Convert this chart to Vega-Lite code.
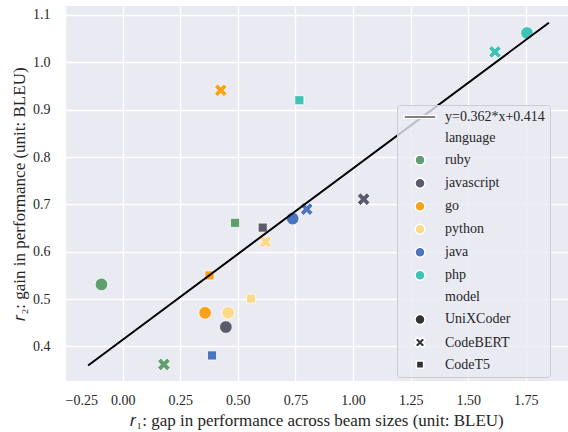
{
  "$schema": "https://vega.github.io/schema/vega-lite/v6.json",
  "width": 503,
  "height": 375,
  "autosize": {"type": "none"},
  "padding": {"left": 65, "top": 6, "right": 0, "bottom": 51},
  "background": "#ffffff",
  "config": {
    "view": {"fill": "#eaeaf2", "stroke": null},
    "font": "Liberation Serif",
    "axis": {
      "domain": false,
      "ticks": false,
      "gridColor": "#ffffff",
      "gridWidth": 1.3,
      "labelFont": "Liberation Serif",
      "labelFontSize": 14,
      "labelColor": "#262626",
      "titleFont": "Liberation Serif",
      "titleFontSize": 17,
      "titleFontWeight": "normal",
      "titleColor": "#262626"
    },
    "legend": {
      "title": null,
      "orient": "none",
      "legendX": 332,
      "legendY": 99,
      "padding": 5,
      "symbolOffset": 11,
      "symbolSize": 100,
      "labelOffset": 18,
      "labelFont": "Liberation Serif",
      "labelFontSize": 14,
      "labelColor": "#262626",
      "rowPadding": 7.05,
      "fillColor": "rgba(234,234,242,0.8)",
      "strokeColor": "#cccccc",
      "cornerRadius": 3
    }
  },
  "datasets": {
    "points": [
      {"language": "ruby", "model": "UniXCoder", "key": "ruby UniXCoder", "r1": -0.092, "r2": 0.531},
      {"language": "ruby", "model": "CodeBERT", "key": "ruby CodeBERT", "r1": 0.179, "r2": 0.362},
      {"language": "ruby", "model": "CodeT5", "key": "ruby CodeT5", "r1": 0.488, "r2": 0.661},
      {"language": "javascript", "model": "UniXCoder", "key": "javascript UniXCoder", "r1": 0.448, "r2": 0.441},
      {"language": "javascript", "model": "CodeBERT", "key": "javascript CodeBERT", "r1": 1.046, "r2": 0.711},
      {"language": "javascript", "model": "CodeT5", "key": "javascript CodeT5", "r1": 0.608, "r2": 0.651},
      {"language": "go", "model": "UniXCoder", "key": "go UniXCoder", "r1": 0.358, "r2": 0.471},
      {"language": "go", "model": "CodeBERT", "key": "go CodeBERT", "r1": 0.426, "r2": 0.941},
      {"language": "go", "model": "CodeT5", "key": "go CodeT5", "r1": 0.377, "r2": 0.55},
      {"language": "python", "model": "UniXCoder", "key": "python UniXCoder", "r1": 0.458, "r2": 0.471},
      {"language": "python", "model": "CodeBERT", "key": "python CodeBERT", "r1": 0.62, "r2": 0.621},
      {"language": "python", "model": "CodeT5", "key": "python CodeT5", "r1": 0.557, "r2": 0.501},
      {"language": "java", "model": "UniXCoder", "key": "java UniXCoder", "r1": 0.738, "r2": 0.67},
      {"language": "java", "model": "CodeBERT", "key": "java CodeBERT", "r1": 0.799, "r2": 0.69},
      {"language": "java", "model": "CodeT5", "key": "java CodeT5", "r1": 0.388, "r2": 0.381},
      {"language": "php", "model": "UniXCoder", "key": "php UniXCoder", "r1": 1.755, "r2": 1.062},
      {"language": "php", "model": "CodeBERT", "key": "php CodeBERT", "r1": 1.616, "r2": 1.022},
      {"language": "php", "model": "CodeT5", "key": "php CodeT5", "r1": 0.767, "r2": 0.92}
    ],
    "fit": [
      {"r1": -0.15, "r2": 0.3597},
      {"r1": 1.85, "r2": 1.0837}
    ]
  },
  "layer": [
    {
      "data": {"name": "points"},
      "mark": {"type": "point", "filled": true, "size": 160, "opacity": 1, "stroke": "#ffffff", "strokeWidth": 0.8},
      "encoding": {
        "x": {
          "field": "r1", "type": "quantitative",
          "scale": {"domain": [-0.2502, 1.933], "nice": false, "zero": false},
          "axis": {"values": [-0.25, 0, 0.25, 0.5, 0.75, 1, 1.25, 1.5, 1.75], "format": ".2f", "labelPadding": 12, "titlePadding": 5,
                   "title": "𝑟₁: gap in performance across beam sizes (unit: BLEU)"}
        },
        "y": {
          "field": "r2", "type": "quantitative",
          "scale": {"domain": [0.327, 1.119], "nice": false, "zero": false},
          "axis": {"values": [0.4, 0.5, 0.6, 0.7, 0.8, 0.9, 1.0, 1.1], "format": ".1f", "labelPadding": 15, "titlePadding": 4,
                   "title": "𝑟₂: gain in performance (unit: BLEU)"}
        },
        "color": {
          "field": "key", "type": "nominal",
          "scale": {
            "domain": ["y=0.362*x+0.414", "language", "ruby", "javascript", "go", "python", "java", "php", "model", "UniXCoder", "CodeBERT", "CodeT5",
                       "ruby UniXCoder", "ruby CodeBERT", "ruby CodeT5", "javascript UniXCoder", "javascript CodeBERT", "javascript CodeT5",
                       "go UniXCoder", "go CodeBERT", "go CodeT5", "python UniXCoder", "python CodeBERT", "python CodeT5",
                       "java UniXCoder", "java CodeBERT", "java CodeT5", "php UniXCoder", "php CodeBERT", "php CodeT5"],
            "range": ["#000000", "transparent", "#5f9e6e", "#5b5a6b", "#f9a11b", "#fdd98a", "#4a76c0", "#3fc3b5", "transparent", "#333333", "#333333", "#333333",
                      "#5f9e6e", "#5f9e6e", "#5f9e6e", "#5b5a6b", "#5b5a6b", "#5b5a6b",
                      "#f9a11b", "#f9a11b", "#f9a11b", "#fdd98a", "#fdd98a", "#fdd98a",
                      "#4a76c0", "#4a76c0", "#4a76c0", "#3fc3b5", "#3fc3b5", "#3fc3b5"]
          },
          "legend": {
            "values": ["y=0.362*x+0.414", "language", "ruby", "javascript", "go", "python", "java", "php", "model", "UniXCoder", "CodeBERT", "CodeT5"]
          }
        },
        "shape": {
          "field": "key", "type": "nominal",
          "scale": {
            "domain": ["y=0.362*x+0.414", "language", "ruby", "javascript", "go", "python", "java", "php", "model", "UniXCoder", "CodeBERT", "CodeT5",
                       "ruby UniXCoder", "ruby CodeBERT", "ruby CodeT5", "javascript UniXCoder", "javascript CodeBERT", "javascript CodeT5",
                       "go UniXCoder", "go CodeBERT", "go CodeT5", "python UniXCoder", "python CodeBERT", "python CodeT5",
                       "java UniXCoder", "java CodeBERT", "java CodeT5", "php UniXCoder", "php CodeBERT", "php CodeT5"],
            "range": ["M-3.2,-0.26L3.2,-0.26L3.2,0.26L-3.2,0.26Z", "M0,0", "circle", "circle", "circle", "circle", "circle", "circle", "M0,0", "circle",
                      "M-1,-0.5L-0.5,-1L0,-0.5L0.5,-1L1,-0.5L0.5,0L1,0.5L0.5,1L0,0.5L-0.5,1L-1,0.5L-0.5,0Z",
                      "M-0.72,-0.72L0.72,-0.72L0.72,0.72L-0.72,0.72Z",
                      "circle", "M-1,-0.5L-0.5,-1L0,-0.5L0.5,-1L1,-0.5L0.5,0L1,0.5L0.5,1L0,0.5L-0.5,1L-1,0.5L-0.5,0Z", "M-0.72,-0.72L0.72,-0.72L0.72,0.72L-0.72,0.72Z",
                      "circle", "M-1,-0.5L-0.5,-1L0,-0.5L0.5,-1L1,-0.5L0.5,0L1,0.5L0.5,1L0,0.5L-0.5,1L-1,0.5L-0.5,0Z", "M-0.72,-0.72L0.72,-0.72L0.72,0.72L-0.72,0.72Z",
                      "circle", "M-1,-0.5L-0.5,-1L0,-0.5L0.5,-1L1,-0.5L0.5,0L1,0.5L0.5,1L0,0.5L-0.5,1L-1,0.5L-0.5,0Z", "M-0.72,-0.72L0.72,-0.72L0.72,0.72L-0.72,0.72Z",
                      "circle", "M-1,-0.5L-0.5,-1L0,-0.5L0.5,-1L1,-0.5L0.5,0L1,0.5L0.5,1L0,0.5L-0.5,1L-1,0.5L-0.5,0Z", "M-0.72,-0.72L0.72,-0.72L0.72,0.72L-0.72,0.72Z",
                      "circle", "M-1,-0.5L-0.5,-1L0,-0.5L0.5,-1L1,-0.5L0.5,0L1,0.5L0.5,1L0,0.5L-0.5,1L-1,0.5L-0.5,0Z", "M-0.72,-0.72L0.72,-0.72L0.72,0.72L-0.72,0.72Z",
                      "circle", "M-1,-0.5L-0.5,-1L0,-0.5L0.5,-1L1,-0.5L0.5,0L1,0.5L0.5,1L0,0.5L-0.5,1L-1,0.5L-0.5,0Z", "M-0.72,-0.72L0.72,-0.72L0.72,0.72L-0.72,0.72Z"]
          },
          "legend": {
            "values": ["y=0.362*x+0.414", "language", "ruby", "javascript", "go", "python", "java", "php", "model", "UniXCoder", "CodeBERT", "CodeT5"]
          }
        }
      }
    },
    {
      "data": {"name": "fit"},
      "mark": {"type": "line", "color": "#000000", "strokeWidth": 2},
      "encoding": {
        "x": {"field": "r1", "type": "quantitative"},
        "y": {"field": "r2", "type": "quantitative"}
      }
    }
  ]
}
